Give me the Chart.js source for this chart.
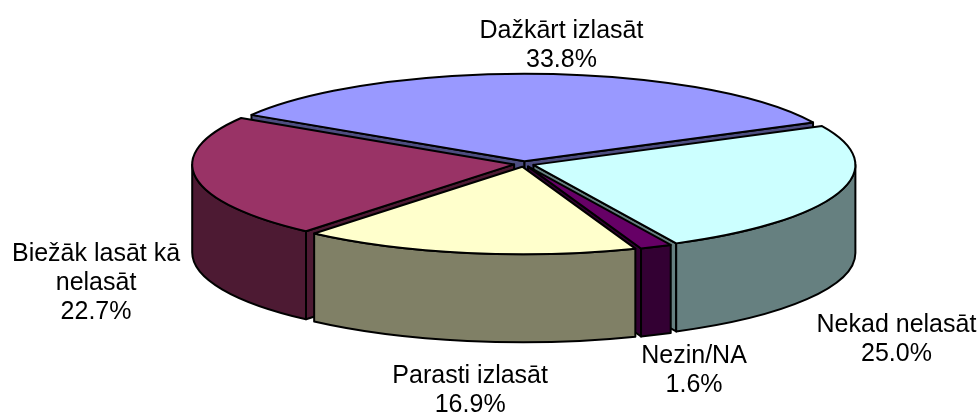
<!DOCTYPE html>
<html>
<head>
<meta charset="utf-8">
<title>Lasīšanas paradumi</title>
<script src="https://cdn.jsdelivr.net/npm/chart.js@4.4.1/dist/chart.umd.min.js"></script>
<style>
  html, body { margin: 0; padding: 0; background: #fff; }
  #wrap { width: 980px; height: 416px; }
</style>
</head>
<body>
<div id="wrap"><canvas id="pie3d" width="980" height="416"></canvas></div>
<script>
const categories = ['Dažkārt izlasāt', 'Nekad nelasāt', 'Nezin/NA', 'Parasti izlasāt', 'Biežāk lasāt kā nelasāt'];
const shares = [33.8, 25.0, 1.6, 16.9, 22.7];
const topColors = ['#9999FF', '#CCFFFF', '#660066', '#FFFFCC', '#993366'];

// side walls use the top colour at half brightness
function shade(hex, k) {
  const n = parseInt(hex.slice(1), 16);
  const r = Math.round(((n >> 16) & 255) * k);
  const g = Math.round(((n >> 8) & 255) * k);
  const b = Math.round((n & 255) * k);
  return `rgb(${r},${g},${b})`;
}

// flatten each arc into an ellipse and push it out along its middle angle
function sliceGeometry(chart, opts) {
  const arcs = chart.getDatasetMeta(0).data;
  return arcs.map((arc, i) => {
    const p = arc.getProps(['x', 'y', 'startAngle', 'endAngle', 'outerRadius'], true);
    const rx = p.outerRadius * opts.stretchX;
    const ry = p.outerRadius * opts.stretchY;
    const depth = p.outerRadius * opts.depth;
    const mid = (p.startAngle + p.endAngle) / 2;
    return {
      i, rx, ry, depth, mid,
      s: p.startAngle,
      e: p.endAngle,
      cx: p.x + opts.explode * rx * Math.cos(mid),
      cy: p.y + opts.explode * ry * Math.sin(mid),
      fill: arc.options.backgroundColor
    };
  });
}

function edge(g, a, dz) {
  return [g.cx + g.rx * Math.cos(a), g.cy + g.ry * Math.sin(a) + (dz || 0)];
}

function paint(ctx, fill, build) {
  ctx.beginPath();
  build();
  ctx.closePath();
  ctx.fillStyle = fill;
  ctx.fill();
  ctx.stroke();
}

function radialWall(ctx, g, a, fill) {
  const p = edge(g, a);
  paint(ctx, fill, () => {
    ctx.moveTo(g.cx, g.cy);
    ctx.lineTo(p[0], p[1]);
    ctx.lineTo(p[0], p[1] + g.depth);
    ctx.lineTo(g.cx, g.cy + g.depth);
  });
}

function outerWall(ctx, g, a, b, fill) {
  const pb = edge(g, b, g.depth);
  paint(ctx, fill, () => {
    ctx.ellipse(g.cx, g.cy, g.rx, g.ry, 0, a, b, false);
    ctx.lineTo(pb[0], pb[1]);
    ctx.ellipse(g.cx, g.cy + g.depth, g.rx, g.ry, 0, b, a, true);
  });
}

const pie3d = {
  id: 'pie3d',
  beforeDatasetsDraw(chart, args, opts) {
    const ctx = chart.ctx;
    const slices = sliceGeometry(chart, opts);
    ctx.save();
    ctx.lineWidth = opts.lineWidth;
    ctx.strokeStyle = opts.lineColor;
    ctx.lineJoin = 'round';

    // walls, back to front
    const order = slices.slice().sort((u, v) => Math.sin(u.mid) - Math.sin(v.mid));
    order.forEach(g => {
      const side = shade(g.fill, 0.5);
      if (Math.cos(g.s) < 0) radialWall(ctx, g, g.s, side);
      if (Math.cos(g.e) > 0) radialWall(ctx, g, g.e, side);
      [-2, 0, 2].forEach(k => {
        const a = Math.max(g.s, k * Math.PI);
        const b = Math.min(g.e, (k + 1) * Math.PI);
        if (b > a) outerWall(ctx, g, a, b, side);
      });
    });

    // top faces
    slices.forEach(g => {
      paint(ctx, g.fill, () => {
        ctx.moveTo(g.cx, g.cy);
        ctx.ellipse(g.cx, g.cy, g.rx, g.ry, 0, g.s, g.e, false);
      });
    });
    ctx.restore();
    return false;
  },
  afterDraw(chart, args, opts) {
    const ctx = chart.ctx;
    const slices = sliceGeometry(chart, opts);
    const values = chart.data.datasets[0].data;
    const total = values.reduce((a, b) => a + b, 0);
    ctx.save();
    ctx.font = opts.font;
    ctx.fillStyle = '#000';
    ctx.textAlign = 'center';
    ctx.textBaseline = 'alphabetic';
    slices.forEach(g => {
      const words = chart.data.labels[g.i].split(' ');
      const lines = [];
      let cur = '';
      words.forEach(w => {
        const t = cur ? cur + ' ' + w : w;
        if (cur && ctx.measureText(t).width > opts.wrapWidth) { lines.push(cur); cur = w; } else cur = t;
      });
      lines.push(cur);
      lines.push((values[g.i] / total * 100).toFixed(1) + '%');

      const s = Math.sin(g.mid);
      const ax = g.cx + g.rx * Math.cos(g.mid);
      const ay = g.cy + g.ry * s + g.depth * Math.max(0, s);
      const off = opts.labelOffsets[g.i];
      lines.forEach((t, j) => ctx.fillText(t, ax + off[0], ay + off[1] + j * opts.lineHeight));
    });
    ctx.restore();
  }
};

new Chart(document.getElementById('pie3d'), {
  type: 'pie',
  data: {
    labels: categories,
    datasets: [{
      data: shares,
      backgroundColor: topColors,
      borderWidth: 0,
      hoverBorderWidth: 0,
      offset: 0,
      hoverOffset: 0
    }]
  },
  options: {
    responsive: false,
    animation: false,
    events: [],
    rotation: -58,
    layout: { padding: { left: 68, right: 0, top: 0, bottom: 88 } },
    plugins: {
      legend: { display: false },
      tooltip: { enabled: false },
      pie3d: {
        stretchX: 1.963,
        stretchY: 0.534,
        depth: 0.537,
        explode: 0.031,
        lineWidth: 2,
        lineColor: '#000',
        font: '25px "Liberation Sans", Arial, sans-serif',
        wrapWidth: 180,
        lineHeight: 29,
        labelOffsets: [[21, -36], [58, 111], [38, 35], [3, 43], [-100, 70]]
      }
    }
  },
  plugins: [pie3d]
});
</script>
</body>
</html>
